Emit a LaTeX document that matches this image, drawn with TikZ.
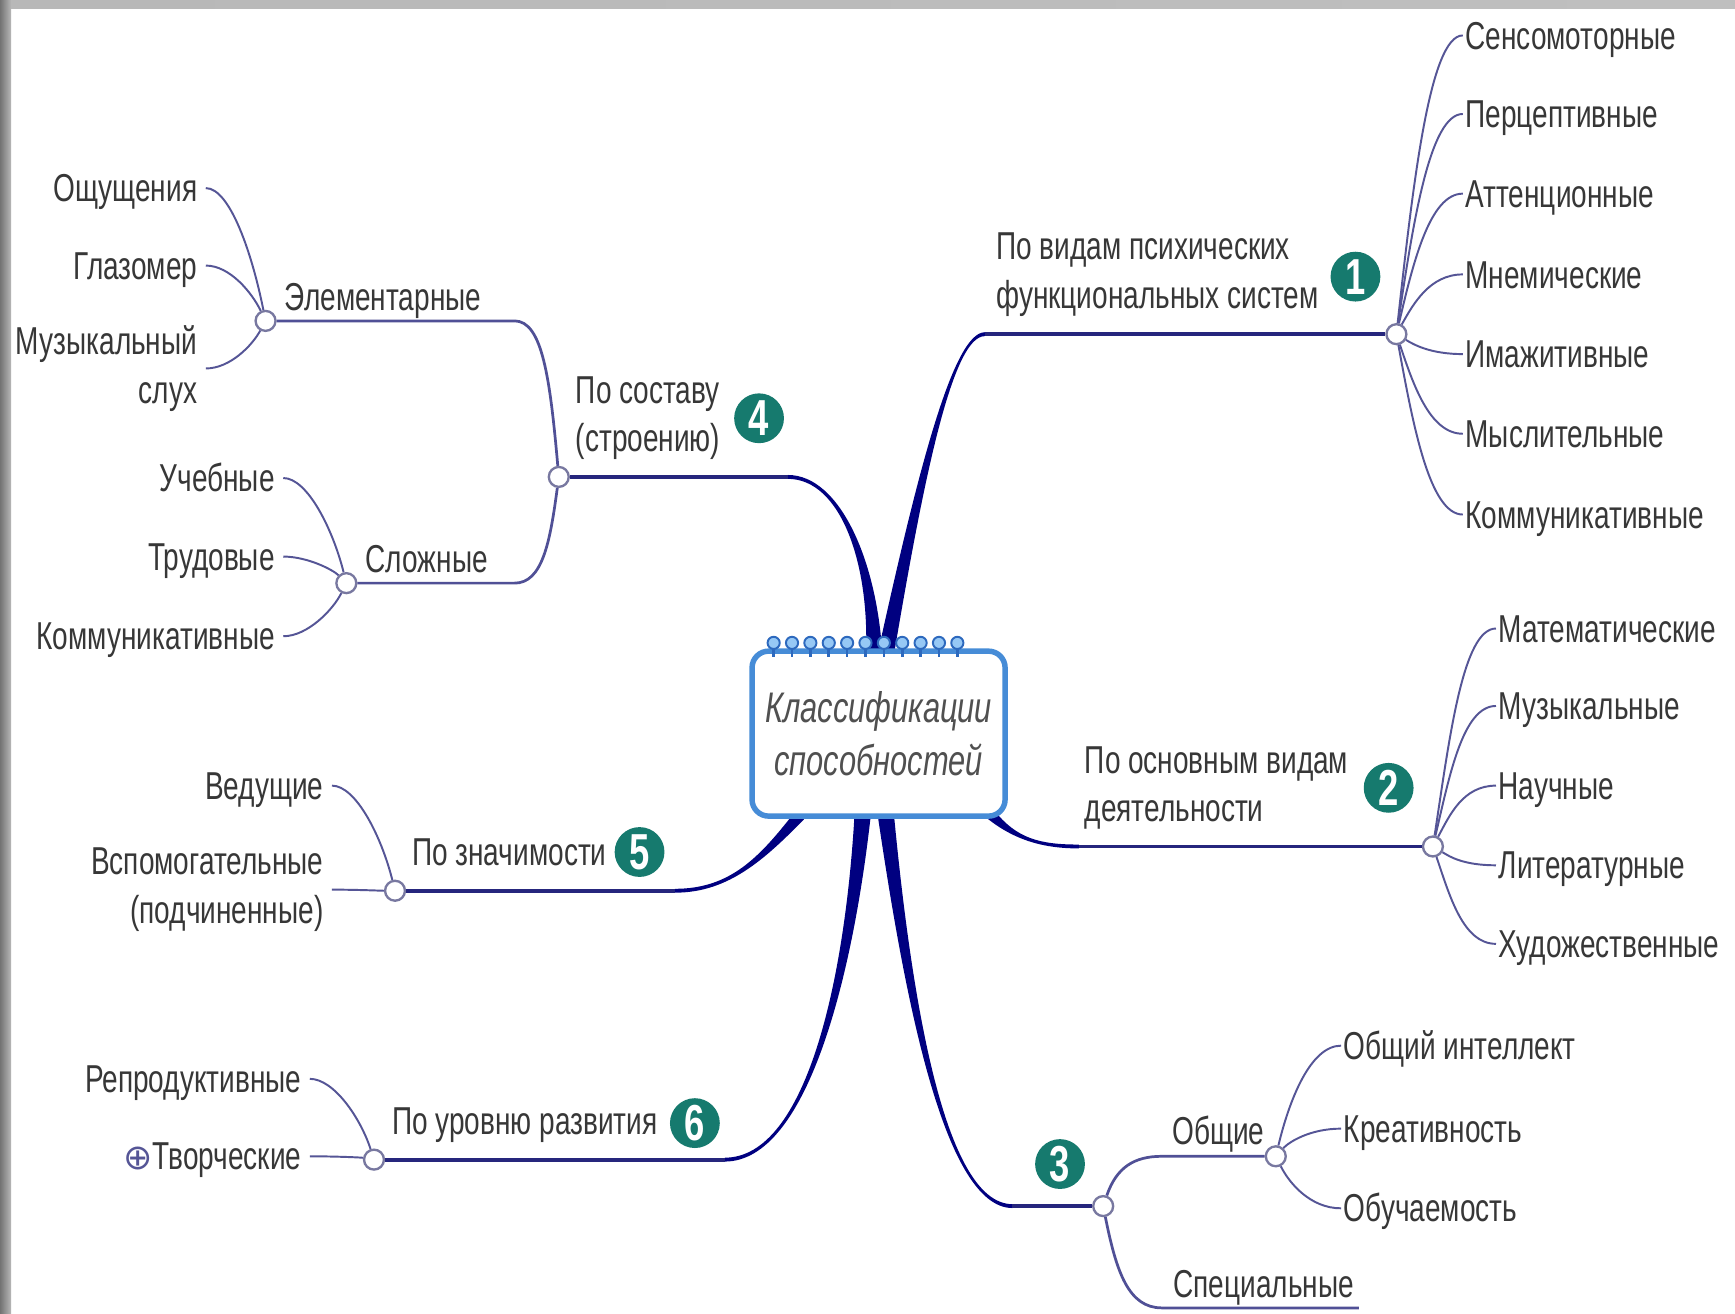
\documentclass[tikz,border=0pt]{standalone}
\usepackage{fontspec}
\setmainfont[FakeStretch=0.72]{Liberation Sans}
\newfontfamily\dejavu{DejaVu Sans}
\usetikzlibrary{calc,backgrounds}

\definecolor{trunkblue}{RGB}{0,0,128}
\definecolor{limbblue}{RGB}{38,38,125}
\definecolor{boughblue}{RGB}{80,80,150}
\definecolor{twigblue}{RGB}{85,85,150}
\definecolor{hubgray}{RGB}{120,120,160}
\definecolor{badgeteal}{RGB}{22,122,110}
\definecolor{boxblue}{RGB}{70,140,215}
\definecolor{ringdark}{RGB}{45,105,190}
\definecolor{ringlight}{RGB}{150,200,245}
\definecolor{inkgray}{RGB}{55,55,55}
\definecolor{rootgray}{RGB}{80,80,80}

% tapered thick stem from the root box to the start of a branch line
\newcommand{\taper}[5]{%
  \fill[trunkblue] ($(#1)+(-7.5,0)$) .. controls ($(#2)+(-3.5,0)$) and ($(#3)+(0,#5)$) .. ($(#4)+(0,#5)$)
    -- ($(#4)-(0,#5)$) .. controls ($(#3)-(0,#5)$) and ($(#2)+(3.5,0)$) .. ($(#1)+(7.5,0)$) -- cycle;}

\tikzset{
  leaf/.style={inner sep=0pt, inner xsep=0.5pt, text=inkgray, text height=8pt, text depth=1pt},
  leafii/.style={inner sep=0pt, inner xsep=0.5pt, text=inkgray},
  lleaf/.style={leaf, inner xsep=2pt},
  lleafii/.style={leafii, inner xsep=2pt},
  hub/.style={circle, draw=hubgray, fill=white, line width=0.6pt, minimum size=0.18cm, inner sep=0pt},
  badge/.style={circle, fill=badgeteal, text=white, font=\fontsize{13}{13}\selectfont\bfseries, minimum size=0.45cm, inner sep=0pt},
  limb/.style={draw=limbblue, line width=1pt},
  bough/.style={draw=boughblue, line width=0.7pt},
  twig/.style={draw=twigblue, line width=0.5pt},
  rootbox/.style={draw=boxblue, line width=1.4pt, fill=white, rounded corners=0.15cm, minimum width=2.27cm, minimum height=1.49cm, align=center, text=rootgray, font=\fontsize{11}{13.5}\selectfont\itshape}
}

\begin{document}
\begin{tikzpicture}[x=0.01cm, y=-0.01cm, every node/.style={font=\fontsize{10}{12.5}\selectfont}]
\useasboundingbox (0,0) rectangle (1568,1187);

% root
\node[rootbox] (root) at (794,663) {Классификации\\способностей};
\foreach \i in {0,...,10} {
  \draw[ringdark, line width=0.7pt] ($(root.north west)+(22+16.6*\i,-3)$) -- ++(0,11);
  \draw[ringdark, fill=ringlight, line width=0.5pt] ($(root.north west)+(22+16.6*\i,-5)$) circle[radius=5.5];
}

% branch 1
\coordinate (b1) at (890,302);
\node[hub] (h1) at (1262,302) {};
\node[leafii, anchor=west, align=left] (lab1) at (898,248) {По видам психических\\функциональных систем};
\node[badge] (n1) at (1225,250) {1};
\node[leaf, anchor=west] (r11) at (1322,32) {Сенсомоторные};
\node[leaf, anchor=west] (r12) at (1322,103) {Перцептивные};
\node[leaf, anchor=west] (r13) at (1322,175) {Аттенционные};
\node[leaf, anchor=west] (r14) at (1322,248) {Мнемические};
\node[leaf, anchor=west] (r15) at (1322,320) {Имажитивные};
\node[leaf, anchor=west] (r16) at (1322,392) {Мыслительные};
\node[leaf, anchor=west] (r17) at (1322,465) {Коммуникативные};
\draw[limb] (b1) -- (h1);
\draw[twig] (h1) .. controls +(15,-135) and +(-30,0) .. (r11.west);
\draw[twig] (h1) .. controls +(15,-100) and +(-30,0) .. (r12.west);
\draw[twig] (h1) .. controls +(15,-64) and +(-30,0) .. (r13.west);
\draw[twig] (h1) .. controls +(15,-27) and +(-30,0) .. (r14.west);
\draw[twig] (h1) .. controls +(15,9) and +(-30,0) .. (r15.west);
\draw[twig] (h1) .. controls +(15,45) and +(-30,0) .. (r16.west);
\draw[twig] (h1) .. controls +(15,82) and +(-30,0) .. (r17.west);

% branch 2
\coordinate (b2) at (975,765);
\node[hub] (h2) at (1295,765) {};
\node[leafii, anchor=west, align=left] (lab2) at (978,712) {По основным видам\\деятельности};
\node[badge] (n2) at (1255,712) {2};
\node[leaf, anchor=west] (r21) at (1352,568) {Математические};
\node[leaf, anchor=west] (r22) at (1352,638) {Музыкальные};
\node[leaf, anchor=west] (r23) at (1352,710) {Научные};
\node[leaf, anchor=west] (r24) at (1352,782) {Литературные};
\node[leaf, anchor=west] (r25) at (1352,853) {Художественные};
\draw[limb] (b2) -- (h2);
\draw[twig] (h2) .. controls +(15,-98) and +(-30,0) .. (r21.west);
\draw[twig] (h2) .. controls +(15,-64) and +(-30,0) .. (r22.west);
\draw[twig] (h2) .. controls +(15,-28) and +(-30,0) .. (r23.west);
\draw[twig] (h2) .. controls +(15,9) and +(-30,0) .. (r24.west);
\draw[twig] (h2) .. controls +(15,44) and +(-30,0) .. (r25.west);

% branch 3
\coordinate (b3) at (915,1090);
\node[hub] (h3) at (997,1090) {};
\node[badge] (n3) at (958,1052) {3};
\coordinate (e31) at (1050,1045);
\node[hub] (h31) at (1153,1045) {};
\node[leaf, anchor=west] (lab31) at (1057,1022) {Общие};
\coordinate (e32) at (1050,1182);
\coordinate (e33) at (1228,1182);
\node[leaf, anchor=west] (lab32) at (1058,1160) {Специальные};
\node[leaf, anchor=west] (r31) at (1212,945) {Общий интеллект};
\node[leaf, anchor=west] (r32) at (1212,1020) {Креативность};
\node[leaf, anchor=west] (r33) at (1212,1092) {Обучаемость};
\draw[limb] (b3) -- (h3);
\draw[bough] (h3) .. controls +(12,-35) and +(-25,0) .. (e31) -- (h31);
\draw[bough] (h3) .. controls +(12,60) and +(-30,0) .. (e32) -- (e33);
\draw[twig] (h31) .. controls +(12,-50) and +(-28,0) .. (r31.west);
\draw[twig] (h31) .. controls +(12,-13) and +(-28,0) .. (r32.west);
\draw[twig] (h31) .. controls +(12,24) and +(-28,0) .. (r33.west);

% branch 4
\coordinate (b4) at (712,431);
\node[hub] (h4) at (505,431) {};
\node[leafii, anchor=west, align=left] (lab4) at (518,378) {По составу\\(строению)};
\node[badge] (n4) at (686,378) {4};
\coordinate (e41) at (465,290);
\node[hub] (h41) at (240,290) {};
\node[leaf, anchor=west] (lab41) at (255,268) {Элементарные};
\coordinate (e42) at (465,527);
\node[hub] (h42) at (313,527) {};
\node[leaf, anchor=west] (lab42) at (328,505) {Сложные};
\node[lleaf, anchor=east] (l41) at (186,170) {Ощущения};
\node[lleaf, anchor=east] (l42) at (186,240) {Глазомер};
\node[lleafii, anchor=east, align=right] (l43) at (186,333) {Музыкальный\\слух};
\node[lleaf, anchor=east] (l44) at (256,432) {Учебные};
\node[lleaf, anchor=east] (l45) at (256,503) {Трудовые};
\node[lleaf, anchor=east] (l46) at (256,575) {Коммуникативные};
\draw[limb] (b4) -- (h4);
\draw[bough] (h4) .. controls +(-8,-90) and +(25,0) .. (e41) -- (h41);
\draw[bough] (h4) .. controls +(-8,60) and +(25,0) .. (e42) -- (h42);
\draw[twig] (h41) .. controls +(-12,-60) and +(22,0) .. (l41.east);
\draw[twig] (h41) .. controls +(-12,-25) and +(22,0) .. (l42.east);
\draw[twig] (h41) .. controls +(-12,22) and +(22,0) .. (l43.east);
\draw[twig] (h42) .. controls +(-12,-48) and +(22,0) .. (l44.east);
\draw[twig] (h42) .. controls +(-12,-12) and +(22,0) .. (l45.east);
\draw[twig] (h42) .. controls +(-12,24) and +(22,0) .. (l46.east);

% branch 5
\coordinate (b5) at (610,805);
\node[hub] (h5) at (357,805) {};
\node[leaf, anchor=west] (lab5) at (370,770) {По значимости};
\node[badge] (n5) at (578,770) {5};
\node[lleaf, anchor=east] (l51) at (300,710) {Ведущие};
\node[lleafii, anchor=east, align=right] (l52) at (300,804) {Вспомогательные\\(подчиненные)};
\draw[limb] (b5) -- (h5);
\draw[twig] (h5) .. controls +(-12,-48) and +(22,0) .. (l51.east);
\draw[twig] (h5) .. controls +(-12,0) and +(22,0) .. (l52.east);

% branch 6
\coordinate (b6) at (655,1048);
\node[hub] (h6) at (338,1048) {};
\node[leaf, anchor=west] (lab6) at (352,1013) {По уровню развития};
\node[badge] (n6) at (628,1015) {6};
\node[lleaf, anchor=east] (l61) at (280,975) {Репродуктивные};
\node[lleaf, anchor=east] (l62) at (280,1045) {\textcolor{twigblue}{\dejavu\fontsize{9}{9}\selectfont ⊕}Творческие};
\draw[limb] (b6) -- (h6);
\draw[twig] (h6) .. controls +(-12,-37) and +(22,0) .. (l61.east);
\draw[twig] (h6) .. controls +(-12,-2) and +(22,0) .. (l62.east);

% thick stems under the root box
\begin{pgfonlayer}{background}
\fill[white] (0,0) rectangle (1568,1187);
\shade[left color=black!55, right color=black!28] (0,0) rectangle (10,1187);
\shade[left color=black!28, middle color=black!5, right color=black!25] (10,0) rectangle (1568,8);
\coordinate (s1) at ($(root.north)+(6,8)$);
\coordinate (s4) at ($(root.north)+(-4,8)$);
\coordinate (s2) at ($(root.south east)+(-20,-8)$);
\coordinate (s5) at ($(root.south west)+(50,-8)$);
\coordinate (s3) at ($(root.south)+(6,-8)$);
\coordinate (s6) at ($(root.south)+(-14,-8)$);
\taper{s1}{830,440}{860,302}{b1}{-1.75}
\taper{s4}{790,510}{760,431}{b4}{1.75}
\taper{s2}{915,758}{940,765}{b2}{1.75}
\taper{s5}{690,775}{660,805}{b5}{-1.75}
\taper{s3}{818,880}{850,1090}{b3}{1.75}
\taper{s6}{768,880}{730,1048}{b6}{-1.75}
\end{pgfonlayer}
\end{tikzpicture}
\end{document}
